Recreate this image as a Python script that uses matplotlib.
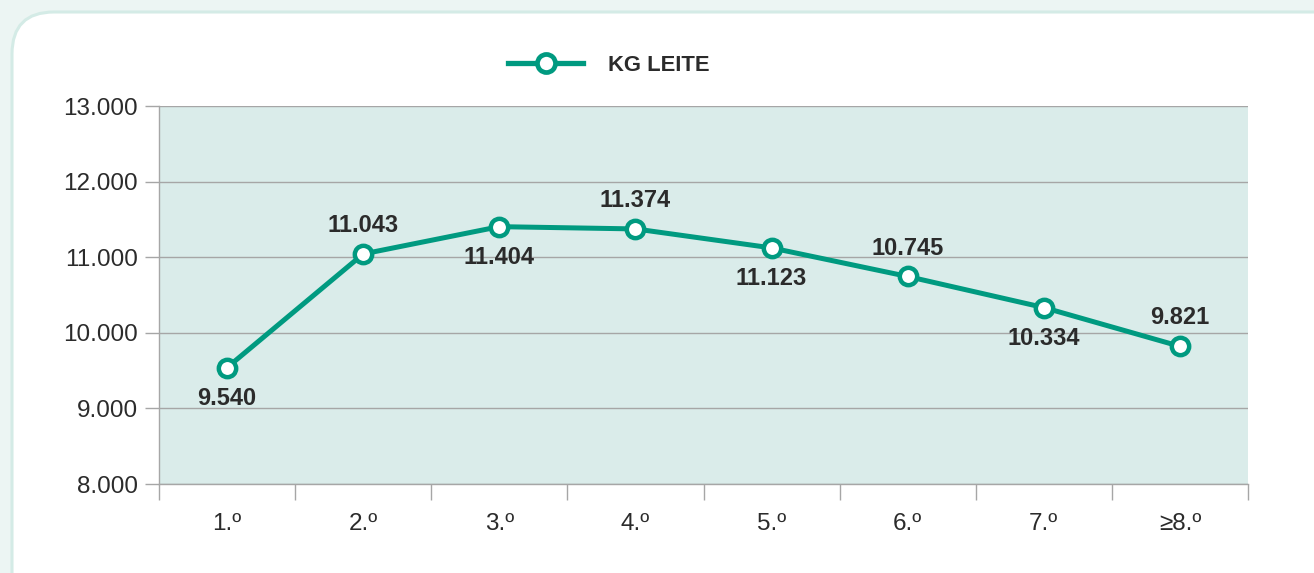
import matplotlib
matplotlib.use("Agg")
import matplotlib.pyplot as plt
from matplotlib.patches import FancyBboxPatch
from matplotlib.transforms import IdentityTransform
from matplotlib.lines import Line2D

plt.rcParams['font.family'] = ['Liberation Sans', 'DejaVu Sans']

# data
categories = ['1.º', '2.º', '3.º', '4.º', '5.º', '6.º', '7.º', '≥8.º']
kg_leite = [9540, 11043, 11404, 11374, 11123, 10745, 10334, 9821]
value_labels = ['9.540', '11.043', '11.404', '11.374', '11.123', '10.745', '10.334', '9.821']
label_above = [False, True, False, True, False, True, False, True]
y_ticks = [8000, 9000, 10000, 11000, 12000, 13000]
y_tick_labels = ['8.000', '9.000', '10.000', '11.000', '12.000', '13.000']

teal = '#009a80'
grid_gray = '#a6a6a6'
text_col = '#2b2b2b'

fig = plt.figure(figsize=(13.14, 5.73), dpi=100)
fig.patch.set_facecolor('#ecf5f3')

# white rounded panel
panel = FancyBboxPatch((12, -60), 1400, 573 - 12 + 60,
                       boxstyle='round,pad=0,rounding_size=42',
                       transform=IdentityTransform(), facecolor='white',
                       edgecolor='#d4ebe6', linewidth=2.2, zorder=-1)
fig.patches.append(panel)

ax = fig.add_axes([159 / 1314, 1 - 484 / 573, (1248 - 159) / 1314, (484 - 106) / 573])
ax.set_facecolor('#daecea')

x = list(range(len(categories)))
ax.plot(x, kg_leite, color=teal, linewidth=3.6, marker='o', markersize=12.5,
        markerfacecolor='white', markeredgecolor=teal, markeredgewidth=3.2,
        zorder=5, clip_on=False)

for xi, val, lab, above in zip(x, kg_leite, value_labels, label_above):
    off = 20.5 if above else -22
    ax.annotate(lab, (xi, val), xytext=(0, off), textcoords='offset points',
                ha='center', va='center', fontsize=17, fontweight='bold',
                color=text_col, zorder=6)

ax.set_xlim(-0.5, len(categories) - 0.5)
ax.set_ylim(8000, 13000)
ax.set_yticks(y_ticks)
ax.set_yticklabels(y_tick_labels, fontsize=17.5, color=text_col)
ax.set_xticks(x)
ax.set_xticklabels(categories, fontsize=17.5, color=text_col)
ax.set_xticks([i - 0.5 for i in range(len(categories) + 1)], minor=True)
ax.tick_params(axis='x', which='major', length=0, pad=21)
ax.tick_params(axis='x', which='minor', length=11.5, width=1, color=grid_gray)
ax.tick_params(axis='y', length=10, width=1, color=grid_gray, pad=5)

ax.grid(axis='y', color=grid_gray, linewidth=1)
ax.set_axisbelow(True)
for side in ['top', 'right']:
    ax.spines[side].set_visible(False)
for side in ['left', 'bottom']:
    ax.spines[side].set_color(grid_gray)
    ax.spines[side].set_linewidth(1)

# legend
handle = Line2D([], [], color=teal, linewidth=3.8, marker='o', markersize=13,
                markerfacecolor='white', markeredgecolor=teal, markeredgewidth=3.4)
fig.legend([handle], ['KG LEITE'], loc='center', bbox_to_anchor=(609 / 1314, 1 - 65 / 573),
           frameon=False, handlelength=3.4, handletextpad=1.15,
           prop={'weight': 'bold', 'size': 15.8})
for t in fig.legends[0].get_texts():
    t.set_color(text_col)

fig.savefig('out.png', dpi=100, facecolor=fig.get_facecolor())
